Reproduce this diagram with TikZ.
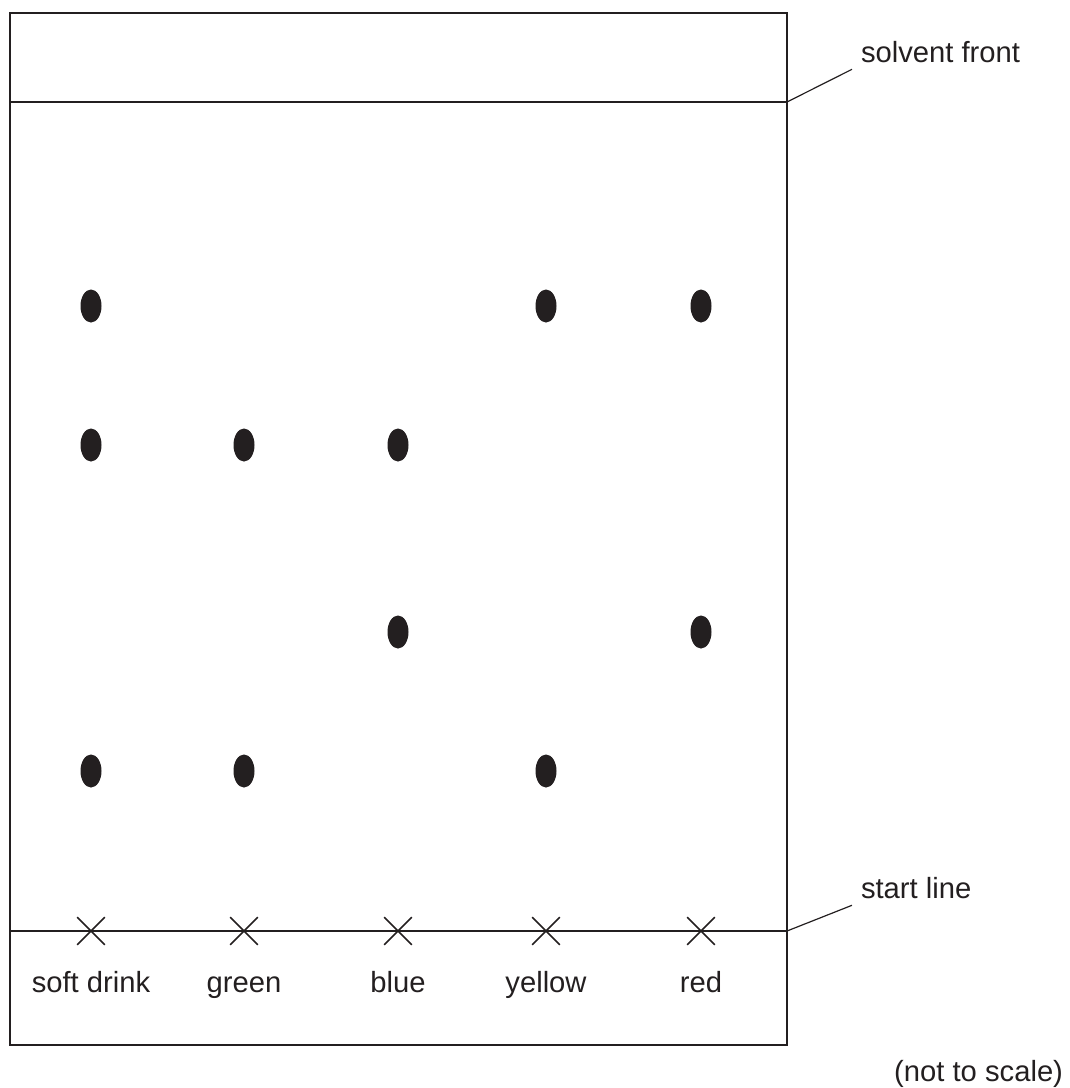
\documentclass[tikz,border=0pt]{standalone}
\usepackage{fontspec}
\setmainfont{Liberation Sans}
\usetikzlibrary{shapes.geometric,shapes.misc}
\definecolor{ink}{HTML}{231F20}

\tikzset{
  spot/.style={fill=ink,ellipse,inner sep=0pt,minimum width=10.5pt,minimum height=16.5pt},
  xmark/.style={cross out,draw=ink,line width=0.8pt,inner sep=0pt,minimum size=13pt},
  lbl/.style={text=ink,font=\fontsize{14.6}{17}\selectfont,inner sep=0pt},
  tag/.style={lbl,inner xsep=4pt,inner ysep=3pt,anchor=base west}
}

\begin{document}
\begin{tikzpicture}[x=0.5pt,y=-0.5pt,line width=1pt,draw=ink]
\useasboundingbox (0,0) rectangle (1070,1088);
% paper, solvent front and start line
\draw (10,13) rectangle (787,1045);
\draw (10,102) -- (787,102);
\draw (10,931) -- (787,931);
\coordinate (front) at (787,102);
\coordinate (start) at (787,931);
% crosses and names of the samples
\foreach \px/\n/\t in {91/drink/soft drink,244/green/green,398/blue/blue,546/yellow/yellow,701/red/red}{
  \node[xmark] (x-\n) at (\px,931) {};
  \node[lbl,anchor=base] (\n) at (\px,992) {\t};
}
% spots
\foreach \px/\py [count=\i] in {91/306,91/445,91/771,244/445,244/771,398/445,398/632,546/306,546/771,701/306,701/632}
  \node[spot] (spot\i) at (\px,\py) {};
% labels
\node[tag] (frontlbl) at (852,62) {solvent front};
\node[tag] (startlbl) at (852,898) {start line};
\draw[line width=0.6pt] (front) -- (frontlbl.south west);
\draw[line width=0.6pt] (start) -- (startlbl.south west);
\node[lbl,anchor=base east] (scale) at (1064,1081) {(not to scale)};
\end{tikzpicture}
\end{document}
